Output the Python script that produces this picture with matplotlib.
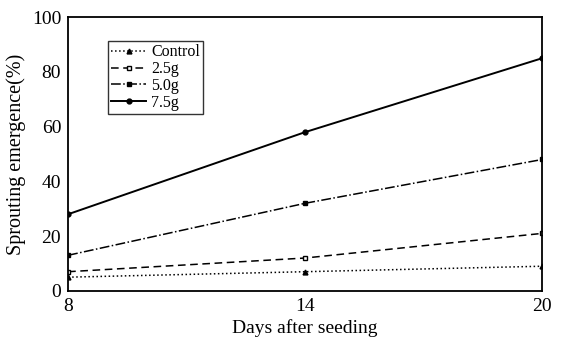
import matplotlib.pyplot as plt

days = [8, 14, 20]
control = [5, 7, 9]
g25 = [7, 12, 21]
g50 = [13, 32, 48]
g75 = [28, 58, 85]

plt.rcParams['font.family'] = ['Liberation Serif', 'DejaVu Serif']

fig = plt.figure(figsize=(5.63, 3.43), dpi=100)
ax = fig.add_axes([0.121, 0.152, 0.842, 0.798])

ax.plot(days, control, color='black', ls=':', lw=1.1, marker='^', ms=3.5, label='Control')
ax.plot(days, g25, color='black', ls=(0, (5, 3)), lw=1.1, marker='s', ms=3.5, mfc='white', label='2.5g')
ax.plot(days, g50, color='black', ls='-.', lw=1.1, marker='s', ms=3.5, label='5.0g')
ax.plot(days, g75, color='black', ls='-', lw=1.4, marker='o', ms=3.5, label='7.5g')

ax.set_xlim(8, 20)
ax.set_ylim(0, 100)
ax.set_xticks([8, 14, 20])
ax.set_yticks([0, 20, 40, 60, 80, 100])
ax.tick_params(length=0, labelsize=14, pad=5)
for s in ax.spines.values():
    s.set_linewidth(1.3)
ax.set_xlabel('Days after seeding', fontsize=14, labelpad=3)
ax.set_ylabel('Sprouting emergence(%)', fontsize=14.5, labelpad=4)

leg = ax.legend(loc='upper left', bbox_to_anchor=(0.084, 0.912), fontsize=11.5,
                frameon=True, fancybox=False, edgecolor='black',
                handlelength=2.2, handletextpad=0.3, borderpad=0.2,
                labelspacing=0.05, borderaxespad=0)
leg.get_frame().set_linewidth(1.0)

fig.savefig('out.png', dpi=100)
